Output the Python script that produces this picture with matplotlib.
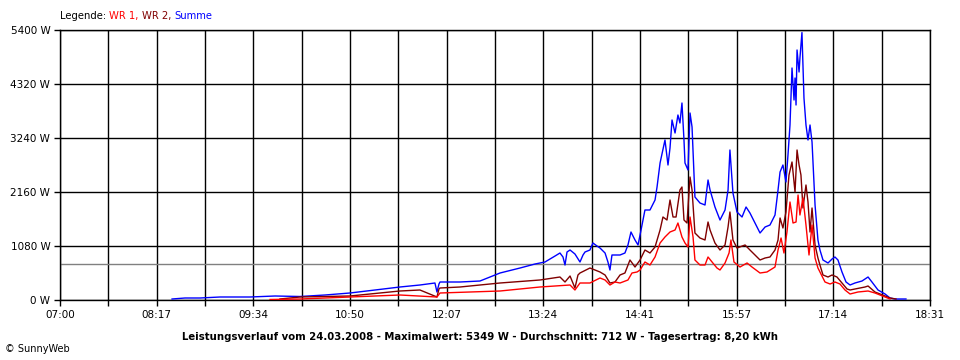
import matplotlib
matplotlib.use("Agg")
import matplotlib.pyplot as plt

START_MIN = 420  # 07:00
END_MIN = 1111   # 18:31

# minutes after 07:00 and watts
summe_t = [89.0, 99.3, 111.2, 127.1, 150.9, 170.8, 190.6, 210.5, 230.3, 250.2, 270.0, 285.9,
           297.8, 299.4, 301.0, 301.8, 309.8, 317.7, 333.6, 349.5, 365.4, 377.3, 385.2, 393.2,
           397.1, 399.5, 401.1, 402.7, 405.1, 409.0, 413.0, 415.4, 417.0, 420.9, 423.3, 426.5,
           428.9, 432.9, 435.2, 436.8, 438.4, 444.8, 448.7, 451.1, 453.5, 456.7, 459.1, 461.5,
           464.6, 468.6, 472.6, 474.2, 476.6, 480.5, 482.9, 484.5, 486.1, 488.5, 490.8, 492.4,
           494.0, 495.6, 496.4, 498.8, 500.4, 502.0, 504.3, 508.3, 512.3, 514.7, 516.3, 520.2,
           524.2, 528.2, 530.6, 532.1, 534.5, 537.7, 541.7, 544.9, 548.0, 556.0, 560.0, 563.9,
           567.9, 570.3, 571.9, 574.2, 576.6, 578.2, 579.8, 581.4, 583.0, 583.8, 584.6, 585.4,
           587.0, 587.7, 589.3, 590.9, 592.5, 594.1, 595.7, 597.3, 599.7, 602.0, 603.6, 606.0,
           610.0, 613.2, 615.5, 617.9, 621.1, 624.3, 627.5, 631.4, 637.0, 641.8, 644.9, 649.7,
           655.3, 659.2, 663.2, 671.9]
summe_w = [20, 40, 40, 60, 60, 80, 70, 100, 140, 200, 260, 300,
           340, 160, 320, 360, 360, 360, 380, 540, 640, 720, 760, 880,
           940, 860, 700, 960, 1000, 920, 760, 900, 960, 1000, 1140, 1080,
           1040, 940, 760, 600, 900, 900, 940, 1100, 1360, 1200, 1100, 1400,
           1800, 1800, 2000, 2260, 2740, 3200, 2700, 3040, 3600, 3340, 3700, 3540,
           3940, 3200, 2740, 2600, 3740, 3460, 2060, 1940, 1900, 2400, 2200, 1860,
           1600, 1800, 2200, 3000, 2140, 1760, 1660, 1860, 1740, 1340, 1460, 1500,
           1700, 2200, 2560, 2700, 2360, 2900, 3500, 4640, 4000, 4440, 3900, 5000,
           4560, 4840, 5349, 4040, 3500, 3200, 3500, 3160, 1900, 1200, 1000, 800,
           740, 820, 860, 800, 560, 360, 300, 340, 380, 460, 360, 200,
           120, 40, 20, 20]

wr2_t = [174.7, 190.6, 230.3, 270.0, 285.9, 299.4, 301.0, 301.8, 317.7, 349.5, 381.2, 397.1,
         401.1, 405.1, 409.0, 411.4, 413.0, 420.9, 428.9, 432.9, 436.8, 440.8, 444.8, 448.7,
         452.7, 456.7, 460.7, 464.6, 468.6, 472.6, 476.6, 478.9, 482.1, 484.5, 486.9, 489.3,
         492.4, 494.0, 495.6, 498.0, 500.4, 502.0, 504.3, 508.3, 512.3, 514.7, 516.3, 520.2,
         524.2, 528.2, 530.6, 532.1, 534.5, 537.7, 544.1, 548.0, 556.0, 560.0, 563.9, 567.9,
         570.3, 571.9, 574.2, 576.6, 579.0, 581.4, 583.8, 585.4, 587.0, 588.5, 590.1, 592.5,
         594.1, 595.7, 597.3, 599.7, 602.0, 603.6, 606.0, 610.0, 613.2, 617.1, 621.1, 625.1,
         627.5, 631.4, 639.4, 641.8, 647.3, 655.3, 659.2, 664.0]
wr2_w = [20, 60, 80, 180, 200, 60, 220, 240, 260, 340, 400, 460,
         360, 480, 240, 500, 540, 640, 560, 500, 340, 360, 500, 540,
         800, 660, 800, 1000, 940, 1060, 1400, 1660, 1600, 2000, 1660, 1660,
         2200, 2260, 1600, 1540, 2460, 2200, 1340, 1240, 1200, 1560, 1400, 1140,
         1000, 1100, 1460, 1760, 1200, 1040, 1100, 1000, 800, 840, 860, 1000,
         1200, 1640, 1440, 1760, 2500, 2760, 2160, 3000, 2700, 2500, 1840, 2300,
         1960, 1360, 1840, 1100, 840, 700, 500, 460, 500, 460, 340, 220,
         200, 220, 260, 280, 160, 80, 40, 20]

wr1_t = [166.8, 190.6, 230.3, 270.0, 299.4, 301.8, 349.5, 381.2, 405.1, 409.0, 413.0, 420.9,
         428.9, 432.9, 436.8, 440.8, 444.8, 451.1, 454.3, 458.3, 460.7, 464.6, 468.6, 472.6,
         476.6, 480.5, 484.5, 488.5, 490.8, 494.0, 496.4, 498.8, 500.4, 502.8, 504.3, 508.3,
         512.3, 514.7, 517.9, 521.8, 524.2, 528.2, 531.4, 532.9, 535.3, 540.1, 545.7, 549.6,
         556.0, 561.5, 567.9, 570.3, 572.7, 575.0, 577.4, 579.8, 582.2, 584.6, 586.2, 587.7,
         590.1, 592.5, 594.9, 597.3, 599.7, 602.0, 603.6, 607.6, 611.6, 615.5, 619.5, 623.5,
         627.5, 633.8, 641.8, 647.3, 655.3, 659.2]
wr1_w = [10, 20, 60, 100, 60, 140, 180, 260, 300, 200, 340, 340,
         440, 400, 300, 360, 340, 400, 540, 560, 600, 760, 700, 860,
         1140, 1260, 1360, 1400, 1540, 1260, 1140, 1060, 1660, 1260, 800, 700,
         700, 860, 760, 640, 600, 740, 940, 1200, 760, 660, 740, 660,
         540, 560, 660, 1000, 1240, 940, 1360, 1960, 1540, 1560, 2100, 1700,
         2040, 1500, 900, 1500, 840, 640, 560, 360, 320, 360, 320, 200,
         120, 160, 180, 140, 60, 20]

average_w = 712
y_ticks = [0, 1080, 2160, 3240, 4320, 5400]
legend_parts = [("Legende: ", "black"), ("WR 1, ", "#ff0000"), ("WR 2, ", "#800000"), ("Summe", "#0000ff")]
title = ("Leistungsverlauf vom 24.03.2008 - Maximalwert: 5349 W - Durchschnitt: 712 W - "
         "Tagesertrag: 8,20 kWh")

plt.rcParams['font.family'] = ['DejaVu Sans']

fig = plt.figure(figsize=(9.6, 3.6), dpi=100)
ax = fig.add_axes([60 / 960, 60 / 360, 870 / 960, 270 / 360])

ax.set_xlim(START_MIN, END_MIN)
ax.set_ylim(0, 5400)

ax.axhline(average_w, color="#808080", lw=1.0, zorder=2)

ax.plot([START_MIN + t for t in summe_t], summe_w, color="#0000ff", lw=1.0, zorder=3)
ax.plot([START_MIN + t for t in wr2_t], wr2_w, color="#800000", lw=1.0, zorder=4)
ax.plot([START_MIN + t for t in wr1_t], wr1_w, color="#ff0000", lw=1.0, zorder=5)

xt = [START_MIN + (END_MIN - START_MIN) * k / 18 for k in range(19)]
labels = []
for k, v in enumerate(xt):
    if k % 2 == 0:
        m = int(round(v))
        labels.append(f"{m // 60:02d}:{m % 60:02d}")
    else:
        labels.append("")
ax.set_xticks(xt)
ax.set_xticklabels(labels)
ax.set_yticks(y_ticks)
ax.set_yticklabels([f"{v} W" for v in y_ticks])
ax.tick_params(axis="both", length=4, width=1.0, color="black", labelsize=7.5, pad=3)
ax.grid(True, color="black", lw=1.0, zorder=1)
ax.set_axisbelow(True)
for s in ax.spines.values():
    s.set_color("black")
    s.set_linewidth(1.0)

fig.text(0.5, (360 - 337) / 360, title, ha="center", va="center", fontsize=7.3, fontweight="bold")
fig.text(5 / 960, (360 - 349) / 360, "© SunnyWeb", ha="left", va="center", fontsize=7)

prev = None
for txt, col in legend_parts:
    if prev is None:
        prev = fig.text(60 / 960, (360 - 16) / 360, txt, ha="left", va="center", fontsize=7.2, color=col)
    else:
        prev = ax.annotate(txt, xy=(1, 0), xycoords=prev, ha="left", va="bottom",
                           fontsize=7.2, color=col, annotation_clip=False)

fig.savefig("out.png", dpi=100, facecolor="white")
